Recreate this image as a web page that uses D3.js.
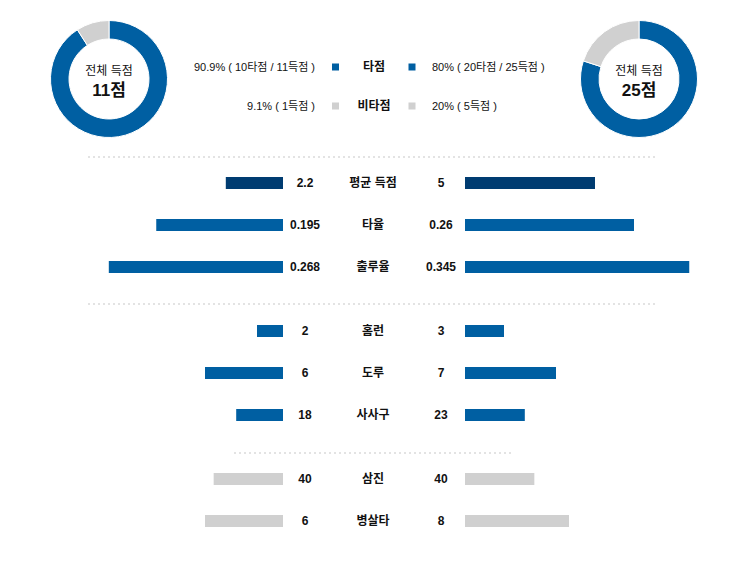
<!DOCTYPE html>
<html>
<head>
<meta charset="utf-8">
<script src="https://cdn.jsdelivr.net/npm/d3@7"></script>
<style>
  html, body { margin: 0; padding: 0; background: #fff; }
  svg { display: block; }
  text { font-family: "Liberation Sans", Arial, "Noto Sans CJK KR", sans-serif; fill: #111; }
</style>
</head>
<body>
<svg id="chart" width="749" height="575"></svg>
<script>
// ---------- data ----------
const teams = ["left", "right"];
const totalRuns = [11, 25];
const rbiRuns = [10, 20];
const nonRbiRuns = [1, 5];
const rbiLegend = ["90.9% ( 10타점 / 11득점 )", "80% ( 20타점 / 25득점 )"];
const nonRbiLegend = ["9.1% ( 1득점 )", "20% ( 5득점 )"];
const legendLabels = ["타점", "비타점"];
const donutCenterTitle = "전체 득점";

const statLabels = ["평균 득점", "타율", "출루율", "홈런", "도루", "사사구", "삼진", "병살타"];
const leftValues  = [2.2, 0.195, 0.268, 2, 6, 18, 40, 6];
const rightValues = [5, 0.26, 0.345, 3, 7, 23, 40, 8];
const leftText  = ["2.2", "0.195", "0.268", "2", "6", "18", "40", "6"];
const rightText = ["5", "0.26", "0.345", "3", "7", "23", "40", "8"];
const statMax   = [10, 0.4, 0.4, 20, 20, 100, 150, 20];
const statGroup = [0, 0, 0, 1, 1, 1, 2, 2];

// ---------- styles ----------
const BLUE = "#005fa2", NAVY = "#003c71", GRAY = "#d0d0d0";
const barColor = i => i === 0 ? NAVY : (statGroup[i] === 2 ? GRAY : BLUE);

const svg = d3.select("#chart");

// ---------- donuts ----------
const donutCx = [109, 639], donutCy = 79;
const pie = d3.pie().sort(null).value(d => d);
const arc = d3.arc().innerRadius(40).outerRadius(58.5);
teams.forEach((t, i) => {
  const g = svg.append("g").attr("transform", `translate(${donutCx[i]},${donutCy})`);
  g.selectAll("path").data(pie([rbiRuns[i], nonRbiRuns[i]])).join("path")
    .attr("d", arc)
    .attr("fill", (d, j) => j === 0 ? BLUE : GRAY)
    .attr("stroke", "#fff").attr("stroke-width", 1);
  g.append("text").attr("text-anchor", "middle").attr("y", -4)
    .attr("font-size", 12).text(donutCenterTitle);
  g.append("text").attr("text-anchor", "middle").attr("y", 17)
    .attr("font-size", 17).attr("font-weight", "bold").text(totalRuns[i] + "점");
});

// ---------- legend ----------
const legendY = [67, 106];
const legendTexts = [[rbiLegend[0], rbiLegend[1]], [nonRbiLegend[0], nonRbiLegend[1]]];
const legendColors = [BLUE, GRAY];
legendY.forEach((y, r) => {
  svg.append("text").attr("x", 315).attr("y", y + 4).attr("text-anchor", "end")
    .attr("font-size", 11).text(legendTexts[r][0]);
  svg.append("rect").attr("x", 332).attr("y", y - 3.5).attr("width", 7).attr("height", 7).attr("fill", legendColors[r]);
  svg.append("text").attr("x", 374).attr("y", y + 4).attr("text-anchor", "middle")
    .attr("font-size", 12).attr("font-weight", "bold").text(legendLabels[r]);
  svg.append("rect").attr("x", 408.5).attr("y", y - 3.5).attr("width", 7).attr("height", 7).attr("fill", legendColors[r]);
  svg.append("text").attr("x", 432).attr("y", y + 4).attr("text-anchor", "start")
    .attr("font-size", 11).text(legendTexts[r][1]);
});

// ---------- separators ----------
const seps = [[88, 656, 157], [88, 656, 304], [234, 514, 453]];
seps.forEach(([x1, x2, y]) => {
  svg.append("line").attr("x1", x1).attr("x2", x2).attr("y1", y).attr("y2", y)
    .attr("stroke", "#e3e3e3").attr("stroke-width", 2).attr("stroke-dasharray", "2,3");
});

// ---------- bars ----------
const rowY = [177, 219, 261, 325, 367, 409, 473, 515];
const barH = 12;
const FULL = 260;
const leftEdge = 283, rightEdge = 465;
statLabels.forEach((lab, i) => {
  const x = d3.scaleLinear().domain([0, statMax[i]]).range([0, FULL]);
  const y = rowY[i];
  svg.append("rect").attr("x", leftEdge - x(leftValues[i])).attr("y", y)
    .attr("width", x(leftValues[i])).attr("height", barH).attr("fill", barColor(i));
  svg.append("rect").attr("x", rightEdge).attr("y", y)
    .attr("width", x(rightValues[i])).attr("height", barH).attr("fill", barColor(i));
  const ty = y + 10;
  svg.append("text").attr("x", 305).attr("y", ty).attr("text-anchor", "middle")
    .attr("font-size", 12).attr("font-weight", "bold").text(leftText[i]);
  svg.append("text").attr("x", 373).attr("y", ty).attr("text-anchor", "middle")
    .attr("font-size", 12).attr("font-weight", "bold").text(lab);
  svg.append("text").attr("x", 441).attr("y", ty).attr("text-anchor", "middle")
    .attr("font-size", 12).attr("font-weight", "bold").text(rightText[i]);
});
</script>
</body>
</html>
